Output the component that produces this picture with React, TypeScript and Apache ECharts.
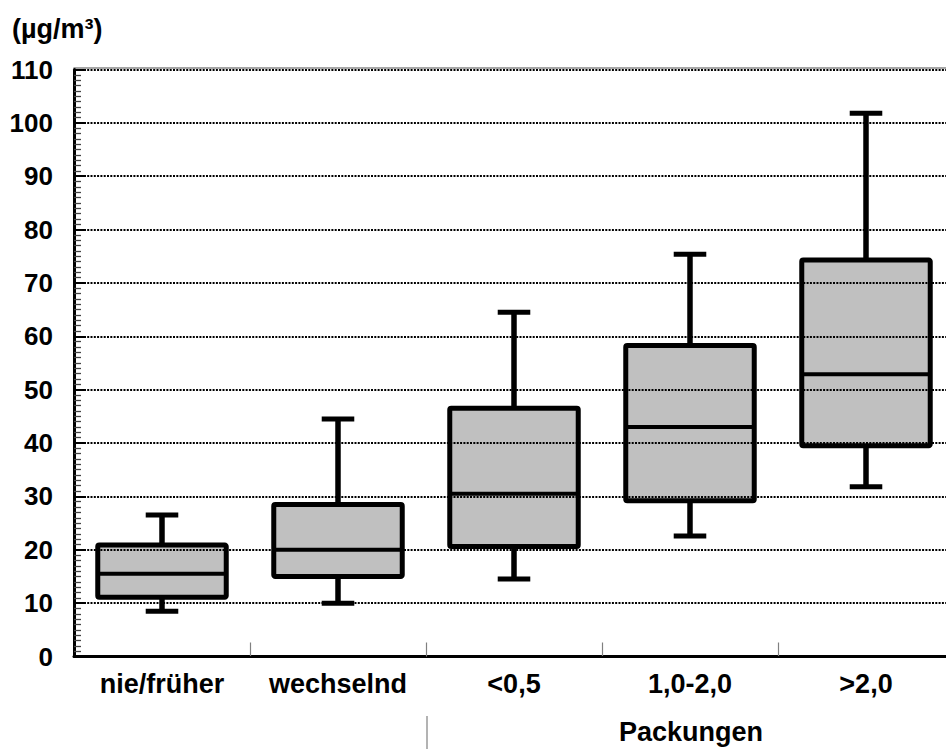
import React, { useEffect, useRef } from "react";
import * as echarts from "echarts";

const categories = ["nie/früher", "wechselnd", "<0,5", "1,0-2,0", ">2,0"];
const lowValues = [8.5, 10.0, 14.5, 22.6, 31.8];
const q1Values = [11.1, 15.0, 20.6, 29.2, 39.5];
const medianValues = [15.5, 20.0, 30.5, 43.0, 52.9];
const q3Values = [20.9, 28.5, 46.5, 58.3, 74.3];
const highValues = [26.5, 44.5, 64.5, 75.4, 101.8];
const yTicks = { min: 0, max: 110, interval: 10 };
const unitLabel = "(µg/m³)";
const groupLabel = "Packungen";

const FONT = "'Liberation Sans', Arial, sans-serif";

export default function App() {
  const ref = useRef<HTMLDivElement>(null);
  useEffect(() => {
    if (!ref.current) return;
    const chart = echarts.init(ref.current, null, { renderer: "svg" });
    const data = categories.map((_, i) => [
      i,
      lowValues[i],
      q1Values[i],
      medianValues[i],
      q3Values[i],
      highValues[i],
    ]);

    const fillItem = (params: any, api: any) => {
      const x = api.value(0);
      const band = api.size([1, 0])[0];
      const bw = band * 0.73;
      const p1 = api.coord([x, api.value(2)]);
      const p3 = api.coord([x, api.value(4)]);
      return {
        type: "rect",
        shape: { x: p1[0] - bw / 2, y: p3[1], width: bw, height: p1[1] - p3[1] },
        style: { fill: "#c0c0c0", stroke: null },
      };
    };

    const strokeItem = (params: any, api: any) => {
      const x = api.value(0);
      const band = api.size([1, 0])[0];
      const bw = band * 0.73;
      const cw = band * 0.185;
      const pl = api.coord([x, api.value(1)]);
      const p1 = api.coord([x, api.value(2)]);
      const pm = api.coord([x, api.value(3)]);
      const p3 = api.coord([x, api.value(4)]);
      const ph = api.coord([x, api.value(5)]);
      const cx = p1[0];
      return {
        type: "group",
        children: [
          { type: "line", shape: { x1: cx, y1: p3[1], x2: cx, y2: ph[1] }, style: { stroke: "#000", lineWidth: 5.5 } },
          { type: "line", shape: { x1: cx, y1: p1[1], x2: cx, y2: pl[1] }, style: { stroke: "#000", lineWidth: 5.5 } },
          { type: "line", shape: { x1: cx - cw / 2, y1: ph[1], x2: cx + cw / 2, y2: ph[1] }, style: { stroke: "#000", lineWidth: 5 } },
          { type: "line", shape: { x1: cx - cw / 2, y1: pl[1], x2: cx + cw / 2, y2: pl[1] }, style: { stroke: "#000", lineWidth: 5 } },
          {
            type: "rect",
            shape: { x: cx - bw / 2, y: p3[1], width: bw, height: p1[1] - p3[1], r: 1.5 },
            style: { stroke: "#000", lineWidth: 5, fill: null, lineJoin: "round" },
          },
          { type: "line", shape: { x1: cx - bw / 2, y1: pm[1], x2: cx + bw / 2, y2: pm[1] }, style: { stroke: "#000", lineWidth: 4 } },
        ],
      };
    };

    chart.setOption({
      animation: false,
      backgroundColor: "#fff",
      grid: { left: 74, right: 2, top: 69.5, bottom: 92.5, containLabel: false },
      xAxis: [
        {
          type: "category",
          data: categories,
          position: "bottom",
          boundaryGap: true,
          axisLine: { lineStyle: { color: "#000", width: 3 } },
          axisTick: { show: true, inside: true, length: 14, alignWithLabel: false, lineStyle: { color: "#808080", width: 1.2 } },
          axisLabel: { interval: 0, fontFamily: FONT, fontWeight: "bold", fontSize: 27, color: "#000", margin: 14 },
          splitLine: { show: false },
        },
        {
          type: "category",
          data: categories,
          position: "top",
          offset: 1.5,
          axisLine: { lineStyle: { color: "#888", width: 1.5 } },
          axisTick: { show: false },
          axisLabel: { show: false },
        },
      ],
      yAxis: {
        type: "value",
        min: yTicks.min,
        max: yTicks.max,
        interval: yTicks.interval,
        z: 2,
        axisLine: { show: true, lineStyle: { color: "#000", width: 3 } },
        axisTick: { show: true, inside: true, length: 12, lineStyle: { color: "#000", width: 2 } },
        minorTick: { show: true, splitNumber: 10, length: 7, lineStyle: { color: "#444", width: 1.3 } },
        axisLabel: { fontFamily: FONT, fontWeight: "bold", fontSize: 26, color: "#000", margin: 21 },
        splitLine: { show: true, lineStyle: { color: "#000", width: 2, type: [2, 1.3] } },
      },
      graphic: [
        {
          type: "text",
          left: 12,
          top: 15,
          style: { text: unitLabel, fontFamily: FONT, fontWeight: "bold", fontSize: 27, fill: "#000" },
        },
        {
          type: "text",
          x: 691,
          y: 732,
          style: {
            text: groupLabel,
            fontFamily: FONT,
            fontWeight: "bold",
            fontSize: 27,
            fill: "#000",
            align: "center",
            verticalAlign: "middle",
          },
        },
        {
          type: "line",
          shape: { x1: 427, y1: 716, x2: 427, y2: 749 },
          style: { stroke: "#808080", lineWidth: 1.2 },
        },
      ],
      series: [
        { type: "custom", z: 1, renderItem: fillItem, data, encode: { x: 0, y: [1, 2, 3, 4, 5] } },
        { type: "custom", z: 3, renderItem: strokeItem, data, encode: { x: 0, y: [1, 2, 3, 4, 5] } },
      ],
    });
    return () => chart.dispose();
  }, []);
  return (
    <div style={{ position: "fixed", left: 0, top: 0, width: 946, height: 749, overflow: "hidden", background: "#fff" }}>
      <div ref={ref} style={{ position: "absolute", left: 0, top: 0, width: 956, height: 749 }} />
    </div>
  );
}
